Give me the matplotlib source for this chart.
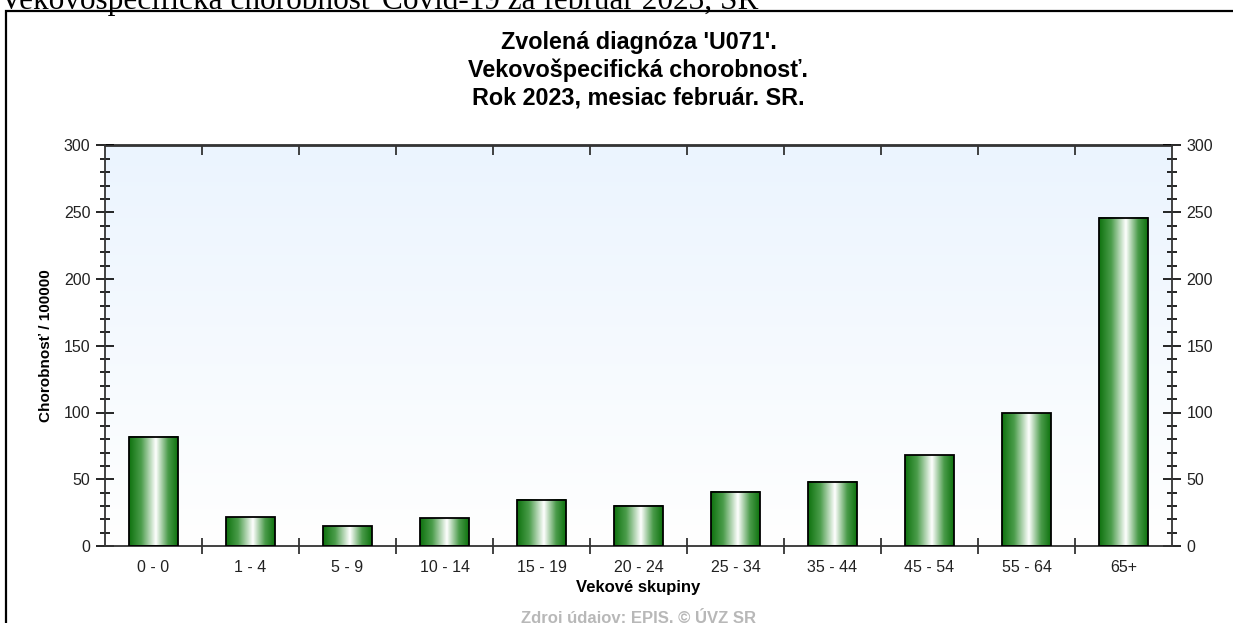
import numpy as np
import matplotlib
matplotlib.use("Agg")
import matplotlib.pyplot as plt
from matplotlib.colors import LinearSegmentedColormap
from matplotlib.ticker import MultipleLocator

categories = ["0 - 0", "1 - 4", "5 - 9", "10 - 14", "15 - 19", "20 - 24",
              "25 - 34", "35 - 44", "45 - 54", "55 - 64", "65+"]
values = [81.8, 21.7, 14.7, 20.7, 34.5, 30.0, 40.5, 48.3, 67.9, 99.3, 245.8]
yticks = [0, 50, 100, 150, 200, 250, 300]

title = "Zvolená diagnóza 'U071'.\nVekovošpecifická chorobnosť.\nRok 2023, mesiac február. SR."
page_text = "Vekovošpecifická chorobnosť Covid-19 za február 2023, SR"
ylabel = "Chorobnosť / 100000"
xlabel = "Vekové skupiny"
source = "Zdroj údajov: EPIS. © ÚVZ SR"

plt.rcParams['font.family'] = ['Liberation Sans', 'DejaVu Sans']

W, H = 1233, 623
fig = plt.figure(figsize=(W / 100, H / 100), dpi=100)

# page caption (cut at top)
fig.text(0.0, 1 - 1 / H, page_text, family=['Liberation Serif', 'DejaVu Serif'],
         fontsize=22.5, ha='left', va='center', color='black')

# frame around chart
frame = plt.Rectangle((6 / W, -0.1), 1.2, 1 - 10.5 / H + 0.1, transform=fig.transFigure,
                      fill=False, edgecolor='black', linewidth=1.6, zorder=0)
fig.patches.append(frame)

left, right = 105 / W, 1172 / W
bottom, top = 1 - 546 / H, 1 - 145.5 / H
ax = fig.add_axes([left, bottom, right - left, top - bottom])

x = np.arange(len(categories))

# background gradient
bg = LinearSegmentedColormap.from_list("bg", ["#ffffff", "#ebf4fe"])
ax.imshow(np.linspace(0, 1, 256).reshape(-1, 1), cmap=bg, aspect='auto',
          extent=[0, 1, 0, 1], transform=ax.transAxes, origin='lower', zorder=0)

bars = ax.bar(x, values, width=0.5, facecolor='none', edgecolor='black',
              linewidth=1.3, zorder=3)

green = LinearSegmentedColormap.from_list(
    "cyl", [(0.0, "#0e720e"), (0.25, "#4c9d4c"), (0.55, "#ffffff"),
            (0.8, "#4a9b4a"), (1.0, "#0e720e")])
grad = np.linspace(0, 1, 256).reshape(1, -1)
for b in bars:
    ax.imshow(grad, cmap=green, aspect='auto',
              extent=[b.get_x(), b.get_x() + b.get_width(), 0, b.get_height()],
              origin='lower', zorder=2, interpolation='bilinear')
ax.set_xlim(-0.5, len(categories) - 0.5)
ax.set_ylim(0, 300)

# ticks
ax.set_xticks(x)
ax.set_xticklabels(categories, fontsize=11.5, color='#222')
ax.set_xticks(np.arange(0.5, len(categories) - 0.5, 1.0), minor=True)
ax.tick_params(axis='x', which='major', length=0, pad=10)
ax.tick_params(axis='x', which='minor', direction='inout', length=12, width=1.2,
               color='#222')
sec = ax.secondary_xaxis('top')
sec.set_xticks(np.arange(0.5, len(categories) - 0.5, 1.0))
sec.tick_params(direction='in', length=7, width=1.2, labeltop=False, color='#222')
sec.spines['top'].set_color('#333')
sec.spines['top'].set_linewidth(1.3)

ax.set_yticks(yticks)
ax.yaxis.set_minor_locator(MultipleLocator(10))
ax.tick_params(axis='y', which='major', direction='inout', length=13, width=1.2,
               labelsize=11.5, labelcolor='#222', right=True, labelright=True, pad=4)
ax.tick_params(axis='y', which='minor', direction='inout', length=7, width=1.2, right=True)

for s in ax.spines.values():
    s.set_color('#333')
    s.set_linewidth(1.3)

ax.set_ylabel(ylabel, fontsize=11, fontweight='bold', labelpad=8)
ax.set_xlabel(xlabel, fontsize=12, fontweight='bold', labelpad=4)

fig.text(0.5 * (left + right), 1 - 70 / H, title, ha='center', va='center',
         fontsize=16.8, fontweight='bold', linespacing=1.25)
fig.text(0.5 * (left + right), 1 - 617 / H, source, ha='center', va='center',
         fontsize=12, fontweight='bold', color='#b8b8b8')

fig.savefig("out.png", dpi=100)
